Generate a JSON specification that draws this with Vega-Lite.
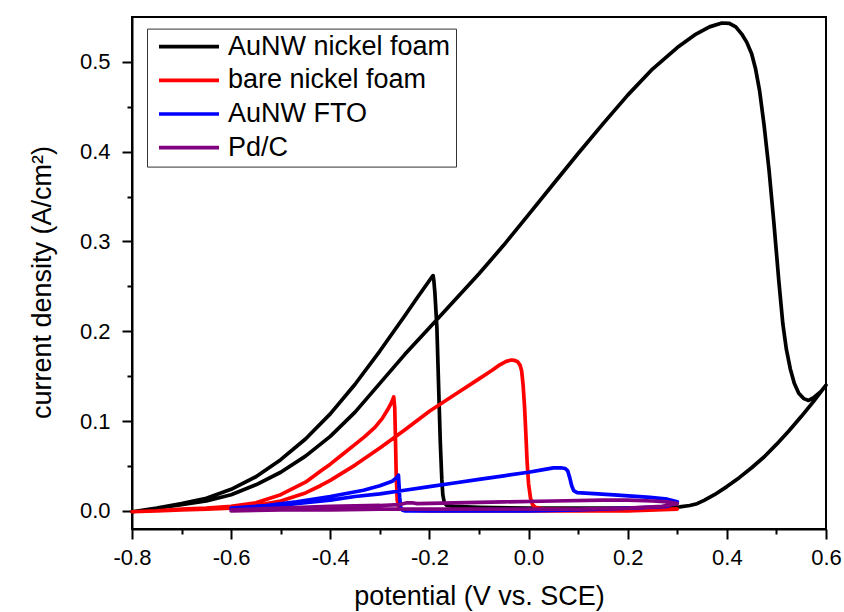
{
  "$schema": "https://vega.github.io/schema/vega-lite/v6.json",
  "width": 694,
  "height": 512,
  "autosize": {"type": "none"},
  "padding": {"left": 132, "top": 17, "right": 18, "bottom": 83},
  "background": "white",
  "config": {
    "font": "Liberation Sans",
    "view": {"stroke": "black", "strokeWidth": 2},
    "axis": {
      "domainColor": "black", "domainWidth": 2, "tickColor": "black", "tickWidth": 2,
      "labelColor": "black", "titleColor": "black", "labelFont": "Liberation Sans",
      "titleFont": "Liberation Sans", "titleFontWeight": "normal", "grid": false,
      "labelFontSize": 22, "titleFontSize": 27
    },
    "legend": {"labelFont": "Liberation Sans", "labelFontSize": 27, "labelColor": "black", "labelLimit": 0}
  },
  "data": {"values": [
    {"s":"AuNW nickel foam","i":1,"v":-0.8,"j":-0.001},
    {"s":"AuNW nickel foam","i":2,"v":-0.75,"j":0.003},
    {"s":"AuNW nickel foam","i":3,"v":-0.7,"j":0.007},
    {"s":"AuNW nickel foam","i":4,"v":-0.65,"j":0.011},
    {"s":"AuNW nickel foam","i":5,"v":-0.6,"j":0.018},
    {"s":"AuNW nickel foam","i":6,"v":-0.55,"j":0.029},
    {"s":"AuNW nickel foam","i":7,"v":-0.5,"j":0.043},
    {"s":"AuNW nickel foam","i":8,"v":-0.45,"j":0.061},
    {"s":"AuNW nickel foam","i":9,"v":-0.4,"j":0.083},
    {"s":"AuNW nickel foam","i":10,"v":-0.35,"j":0.110},
    {"s":"AuNW nickel foam","i":11,"v":-0.3,"j":0.142},
    {"s":"AuNW nickel foam","i":12,"v":-0.25,"j":0.174},
    {"s":"AuNW nickel foam","i":13,"v":-0.2,"j":0.204},
    {"s":"AuNW nickel foam","i":14,"v":-0.15,"j":0.234},
    {"s":"AuNW nickel foam","i":15,"v":-0.1,"j":0.264},
    {"s":"AuNW nickel foam","i":16,"v":-0.05,"j":0.296},
    {"s":"AuNW nickel foam","i":17,"v":0.0,"j":0.330},
    {"s":"AuNW nickel foam","i":18,"v":0.05,"j":0.364},
    {"s":"AuNW nickel foam","i":19,"v":0.1,"j":0.398},
    {"s":"AuNW nickel foam","i":20,"v":0.15,"j":0.431},
    {"s":"AuNW nickel foam","i":21,"v":0.2,"j":0.463},
    {"s":"AuNW nickel foam","i":22,"v":0.25,"j":0.492},
    {"s":"AuNW nickel foam","i":23,"v":0.3,"j":0.516},
    {"s":"AuNW nickel foam","i":24,"v":0.335,"j":0.530},
    {"s":"AuNW nickel foam","i":25,"v":0.365,"j":0.539},
    {"s":"AuNW nickel foam","i":26,"v":0.39,"j":0.5433},
    {"s":"AuNW nickel foam","i":27,"v":0.405,"j":0.543},
    {"s":"AuNW nickel foam","i":28,"v":0.418,"j":0.539},
    {"s":"AuNW nickel foam","i":29,"v":0.43,"j":0.531},
    {"s":"AuNW nickel foam","i":30,"v":0.44,"j":0.522},
    {"s":"AuNW nickel foam","i":31,"v":0.45,"j":0.509},
    {"s":"AuNW nickel foam","i":32,"v":0.458,"j":0.492},
    {"s":"AuNW nickel foam","i":33,"v":0.466,"j":0.468},
    {"s":"AuNW nickel foam","i":34,"v":0.475,"j":0.430},
    {"s":"AuNW nickel foam","i":35,"v":0.485,"j":0.380},
    {"s":"AuNW nickel foam","i":36,"v":0.495,"j":0.320},
    {"s":"AuNW nickel foam","i":37,"v":0.505,"j":0.255},
    {"s":"AuNW nickel foam","i":38,"v":0.513,"j":0.208},
    {"s":"AuNW nickel foam","i":39,"v":0.52,"j":0.180},
    {"s":"AuNW nickel foam","i":40,"v":0.528,"j":0.158},
    {"s":"AuNW nickel foam","i":41,"v":0.536,"j":0.142},
    {"s":"AuNW nickel foam","i":42,"v":0.545,"j":0.131},
    {"s":"AuNW nickel foam","i":43,"v":0.555,"j":0.125},
    {"s":"AuNW nickel foam","i":44,"v":0.565,"j":0.123},
    {"s":"AuNW nickel foam","i":45,"v":0.575,"j":0.126},
    {"s":"AuNW nickel foam","i":46,"v":0.59,"j":0.133},
    {"s":"AuNW nickel foam","i":47,"v":0.6,"j":0.140},
    {"s":"AuNW nickel foam","i":48,"v":0.575,"j":0.122},
    {"s":"AuNW nickel foam","i":49,"v":0.55,"j":0.105},
    {"s":"AuNW nickel foam","i":50,"v":0.525,"j":0.089},
    {"s":"AuNW nickel foam","i":51,"v":0.5,"j":0.074},
    {"s":"AuNW nickel foam","i":52,"v":0.475,"j":0.060},
    {"s":"AuNW nickel foam","i":53,"v":0.45,"j":0.048},
    {"s":"AuNW nickel foam","i":54,"v":0.425,"j":0.037},
    {"s":"AuNW nickel foam","i":55,"v":0.4,"j":0.027},
    {"s":"AuNW nickel foam","i":56,"v":0.375,"j":0.018},
    {"s":"AuNW nickel foam","i":57,"v":0.355,"j":0.012},
    {"s":"AuNW nickel foam","i":58,"v":0.34,"j":0.008},
    {"s":"AuNW nickel foam","i":59,"v":0.325,"j":0.006},
    {"s":"AuNW nickel foam","i":60,"v":0.305,"j":0.0045},
    {"s":"AuNW nickel foam","i":61,"v":0.28,"j":0.004},
    {"s":"AuNW nickel foam","i":62,"v":0.2,"j":0.003},
    {"s":"AuNW nickel foam","i":63,"v":0.1,"j":0.003},
    {"s":"AuNW nickel foam","i":64,"v":0.0,"j":0.003},
    {"s":"AuNW nickel foam","i":65,"v":-0.1,"j":0.004},
    {"s":"AuNW nickel foam","i":66,"v":-0.15,"j":0.005},
    {"s":"AuNW nickel foam","i":67,"v":-0.165,"j":0.006},
    {"s":"AuNW nickel foam","i":68,"v":-0.17,"j":0.009},
    {"s":"AuNW nickel foam","i":69,"v":-0.173,"j":0.018},
    {"s":"AuNW nickel foam","i":70,"v":-0.175,"j":0.035},
    {"s":"AuNW nickel foam","i":71,"v":-0.178,"j":0.075},
    {"s":"AuNW nickel foam","i":72,"v":-0.181,"j":0.130},
    {"s":"AuNW nickel foam","i":73,"v":-0.185,"j":0.205},
    {"s":"AuNW nickel foam","i":74,"v":-0.189,"j":0.243},
    {"s":"AuNW nickel foam","i":75,"v":-0.191,"j":0.256},
    {"s":"AuNW nickel foam","i":76,"v":-0.1925,"j":0.262},
    {"s":"AuNW nickel foam","i":77,"v":-0.195,"j":0.2605},
    {"s":"AuNW nickel foam","i":78,"v":-0.2,"j":0.2565},
    {"s":"AuNW nickel foam","i":79,"v":-0.225,"j":0.237},
    {"s":"AuNW nickel foam","i":80,"v":-0.25,"j":0.217},
    {"s":"AuNW nickel foam","i":81,"v":-0.3,"j":0.178},
    {"s":"AuNW nickel foam","i":82,"v":-0.35,"j":0.141},
    {"s":"AuNW nickel foam","i":83,"v":-0.4,"j":0.108},
    {"s":"AuNW nickel foam","i":84,"v":-0.45,"j":0.080},
    {"s":"AuNW nickel foam","i":85,"v":-0.5,"j":0.057},
    {"s":"AuNW nickel foam","i":86,"v":-0.55,"j":0.038},
    {"s":"AuNW nickel foam","i":87,"v":-0.6,"j":0.024},
    {"s":"AuNW nickel foam","i":88,"v":-0.65,"j":0.014},
    {"s":"AuNW nickel foam","i":89,"v":-0.7,"j":0.008},
    {"s":"AuNW nickel foam","i":90,"v":-0.75,"j":0.003},
    {"s":"AuNW nickel foam","i":91,"v":-0.8,"j":-0.001},

    {"s":"bare nickel foam","i":1,"v":-0.8,"j":-0.001},
    {"s":"bare nickel foam","i":2,"v":-0.75,"j":0.000},
    {"s":"bare nickel foam","i":3,"v":-0.7,"j":0.001},
    {"s":"bare nickel foam","i":4,"v":-0.65,"j":0.002},
    {"s":"bare nickel foam","i":5,"v":-0.6,"j":0.003},
    {"s":"bare nickel foam","i":6,"v":-0.55,"j":0.006},
    {"s":"bare nickel foam","i":7,"v":-0.5,"j":0.011},
    {"s":"bare nickel foam","i":8,"v":-0.45,"j":0.020},
    {"s":"bare nickel foam","i":9,"v":-0.42,"j":0.028},
    {"s":"bare nickel foam","i":10,"v":-0.4,"j":0.034},
    {"s":"bare nickel foam","i":11,"v":-0.35,"j":0.051},
    {"s":"bare nickel foam","i":12,"v":-0.3,"j":0.070},
    {"s":"bare nickel foam","i":13,"v":-0.25,"j":0.090},
    {"s":"bare nickel foam","i":14,"v":-0.2,"j":0.111},
    {"s":"bare nickel foam","i":15,"v":-0.15,"j":0.129},
    {"s":"bare nickel foam","i":16,"v":-0.1,"j":0.147},
    {"s":"bare nickel foam","i":17,"v":-0.075,"j":0.156},
    {"s":"bare nickel foam","i":18,"v":-0.06,"j":0.162},
    {"s":"bare nickel foam","i":19,"v":-0.045,"j":0.1665},
    {"s":"bare nickel foam","i":20,"v":-0.035,"j":0.168},
    {"s":"bare nickel foam","i":21,"v":-0.028,"j":0.1675},
    {"s":"bare nickel foam","i":22,"v":-0.022,"j":0.166},
    {"s":"bare nickel foam","i":23,"v":-0.017,"j":0.162},
    {"s":"bare nickel foam","i":24,"v":-0.014,"j":0.156},
    {"s":"bare nickel foam","i":25,"v":-0.011,"j":0.140},
    {"s":"bare nickel foam","i":26,"v":-0.008,"j":0.115},
    {"s":"bare nickel foam","i":27,"v":-0.005,"j":0.080},
    {"s":"bare nickel foam","i":28,"v":-0.003,"j":0.055},
    {"s":"bare nickel foam","i":29,"v":0.0,"j":0.030},
    {"s":"bare nickel foam","i":30,"v":0.004,"j":0.014},
    {"s":"bare nickel foam","i":31,"v":0.008,"j":0.007},
    {"s":"bare nickel foam","i":32,"v":0.014,"j":0.004},
    {"s":"bare nickel foam","i":33,"v":0.03,"j":0.002},
    {"s":"bare nickel foam","i":34,"v":0.1,"j":0.001},
    {"s":"bare nickel foam","i":35,"v":0.2,"j":0.001},
    {"s":"bare nickel foam","i":36,"v":0.3,"j":0.002},
    {"s":"bare nickel foam","i":37,"v":0.2,"j":0.000},
    {"s":"bare nickel foam","i":38,"v":0.1,"j":0.000},
    {"s":"bare nickel foam","i":39,"v":0.0,"j":0.000},
    {"s":"bare nickel foam","i":40,"v":-0.1,"j":0.000},
    {"s":"bare nickel foam","i":41,"v":-0.2,"j":0.000},
    {"s":"bare nickel foam","i":42,"v":-0.25,"j":0.001},
    {"s":"bare nickel foam","i":43,"v":-0.258,"j":0.002},
    {"s":"bare nickel foam","i":44,"v":-0.262,"j":0.004},
    {"s":"bare nickel foam","i":45,"v":-0.265,"j":0.012},
    {"s":"bare nickel foam","i":46,"v":-0.267,"j":0.040},
    {"s":"bare nickel foam","i":47,"v":-0.2685,"j":0.080},
    {"s":"bare nickel foam","i":48,"v":-0.27,"j":0.115},
    {"s":"bare nickel foam","i":49,"v":-0.272,"j":0.127},
    {"s":"bare nickel foam","i":50,"v":-0.274,"j":0.124},
    {"s":"bare nickel foam","i":51,"v":-0.278,"j":0.119},
    {"s":"bare nickel foam","i":52,"v":-0.285,"j":0.112},
    {"s":"bare nickel foam","i":53,"v":-0.295,"j":0.103},
    {"s":"bare nickel foam","i":54,"v":-0.31,"j":0.093},
    {"s":"bare nickel foam","i":55,"v":-0.33,"j":0.083},
    {"s":"bare nickel foam","i":56,"v":-0.35,"j":0.074},
    {"s":"bare nickel foam","i":57,"v":-0.375,"j":0.063},
    {"s":"bare nickel foam","i":58,"v":-0.4,"j":0.052},
    {"s":"bare nickel foam","i":59,"v":-0.42,"j":0.044},
    {"s":"bare nickel foam","i":60,"v":-0.45,"j":0.032},
    {"s":"bare nickel foam","i":61,"v":-0.5,"j":0.018},
    {"s":"bare nickel foam","i":62,"v":-0.55,"j":0.009},
    {"s":"bare nickel foam","i":63,"v":-0.6,"j":0.005},
    {"s":"bare nickel foam","i":64,"v":-0.65,"j":0.003},
    {"s":"bare nickel foam","i":65,"v":-0.7,"j":0.002},
    {"s":"bare nickel foam","i":66,"v":-0.75,"j":0.000},
    {"s":"bare nickel foam","i":67,"v":-0.8,"j":-0.001},

    {"s":"AuNW FTO","i":1,"v":-0.6,"j":0.002},
    {"s":"AuNW FTO","i":2,"v":-0.55,"j":0.004},
    {"s":"AuNW FTO","i":3,"v":-0.5,"j":0.006},
    {"s":"AuNW FTO","i":4,"v":-0.45,"j":0.009},
    {"s":"AuNW FTO","i":5,"v":-0.4,"j":0.012},
    {"s":"AuNW FTO","i":6,"v":-0.35,"j":0.016},
    {"s":"AuNW FTO","i":7,"v":-0.3,"j":0.019},
    {"s":"AuNW FTO","i":8,"v":-0.25,"j":0.023},
    {"s":"AuNW FTO","i":9,"v":-0.2,"j":0.027},
    {"s":"AuNW FTO","i":10,"v":-0.15,"j":0.031},
    {"s":"AuNW FTO","i":11,"v":-0.1,"j":0.035},
    {"s":"AuNW FTO","i":12,"v":-0.05,"j":0.039},
    {"s":"AuNW FTO","i":13,"v":0.0,"j":0.043},
    {"s":"AuNW FTO","i":14,"v":0.03,"j":0.046},
    {"s":"AuNW FTO","i":15,"v":0.05,"j":0.0478},
    {"s":"AuNW FTO","i":16,"v":0.065,"j":0.048},
    {"s":"AuNW FTO","i":17,"v":0.074,"j":0.0472},
    {"s":"AuNW FTO","i":18,"v":0.079,"j":0.0445},
    {"s":"AuNW FTO","i":19,"v":0.083,"j":0.037},
    {"s":"AuNW FTO","i":20,"v":0.087,"j":0.028},
    {"s":"AuNW FTO","i":21,"v":0.091,"j":0.0225},
    {"s":"AuNW FTO","i":22,"v":0.098,"j":0.0203},
    {"s":"AuNW FTO","i":23,"v":0.14,"j":0.019},
    {"s":"AuNW FTO","i":24,"v":0.18,"j":0.0175},
    {"s":"AuNW FTO","i":25,"v":0.245,"j":0.015},
    {"s":"AuNW FTO","i":26,"v":0.28,"j":0.013},
    {"s":"AuNW FTO","i":27,"v":0.3,"j":0.010},
    {"s":"AuNW FTO","i":28,"v":0.28,"j":0.005},
    {"s":"AuNW FTO","i":29,"v":0.25,"j":0.004},
    {"s":"AuNW FTO","i":30,"v":0.2,"j":0.003},
    {"s":"AuNW FTO","i":31,"v":0.1,"j":0.001},
    {"s":"AuNW FTO","i":32,"v":0.0,"j":0.000},
    {"s":"AuNW FTO","i":33,"v":-0.1,"j":0.000},
    {"s":"AuNW FTO","i":34,"v":-0.2,"j":0.000},
    {"s":"AuNW FTO","i":35,"v":-0.25,"j":0.000},
    {"s":"AuNW FTO","i":36,"v":-0.255,"j":0.001},
    {"s":"AuNW FTO","i":37,"v":-0.258,"j":0.004},
    {"s":"AuNW FTO","i":38,"v":-0.26,"j":0.015},
    {"s":"AuNW FTO","i":39,"v":-0.2615,"j":0.030},
    {"s":"AuNW FTO","i":40,"v":-0.2625,"j":0.0397},
    {"s":"AuNW FTO","i":41,"v":-0.266,"j":0.037},
    {"s":"AuNW FTO","i":42,"v":-0.275,"j":0.033},
    {"s":"AuNW FTO","i":43,"v":-0.3,"j":0.028},
    {"s":"AuNW FTO","i":44,"v":-0.333,"j":0.023},
    {"s":"AuNW FTO","i":45,"v":-0.4,"j":0.016},
    {"s":"AuNW FTO","i":46,"v":-0.468,"j":0.010},
    {"s":"AuNW FTO","i":47,"v":-0.53,"j":0.006},
    {"s":"AuNW FTO","i":48,"v":-0.6,"j":0.003},

    {"s":"Pd/C","i":1,"v":-0.6,"j":0.001},
    {"s":"Pd/C","i":2,"v":-0.5,"j":0.003},
    {"s":"Pd/C","i":3,"v":-0.4,"j":0.005},
    {"s":"Pd/C","i":4,"v":-0.3,"j":0.006},
    {"s":"Pd/C","i":5,"v":-0.26,"j":0.007},
    {"s":"Pd/C","i":6,"v":-0.245,"j":0.009},
    {"s":"Pd/C","i":7,"v":-0.235,"j":0.009},
    {"s":"Pd/C","i":8,"v":-0.225,"j":0.008},
    {"s":"Pd/C","i":9,"v":-0.15,"j":0.009},
    {"s":"Pd/C","i":10,"v":-0.05,"j":0.010},
    {"s":"Pd/C","i":11,"v":0.05,"j":0.011},
    {"s":"Pd/C","i":12,"v":0.15,"j":0.012},
    {"s":"Pd/C","i":13,"v":0.2,"j":0.012},
    {"s":"Pd/C","i":14,"v":0.25,"j":0.011},
    {"s":"Pd/C","i":15,"v":0.28,"j":0.010},
    {"s":"Pd/C","i":16,"v":0.3,"j":0.008},
    {"s":"Pd/C","i":17,"v":0.27,"j":0.005},
    {"s":"Pd/C","i":18,"v":0.2,"j":0.003},
    {"s":"Pd/C","i":19,"v":0.1,"j":0.002},
    {"s":"Pd/C","i":20,"v":0.0,"j":0.002},
    {"s":"Pd/C","i":21,"v":-0.1,"j":0.002},
    {"s":"Pd/C","i":22,"v":-0.2,"j":0.002},
    {"s":"Pd/C","i":23,"v":-0.3,"j":0.002},
    {"s":"Pd/C","i":24,"v":-0.4,"j":0.001},
    {"s":"Pd/C","i":25,"v":-0.5,"j":0.001},
    {"s":"Pd/C","i":26,"v":-0.6,"j":0.000}
  ]},
  "mark": {"type": "line", "strokeJoin": "round", "strokeCap": "round"},
  "encoding": {
    "x": {
      "field": "v", "type": "quantitative",
      "scale": {"domain": [-0.8, 0.6], "nice": false, "zero": false},
      "axis": {
        "values": [-0.8, -0.7, -0.6, -0.5, -0.4, -0.3, -0.2, -0.1, 0, 0.1, 0.2, 0.3, 0.4, 0.5, 0.6],
        "labelExpr": "abs(round(datum.value*10)) % 2 == 0 ? replace(format(datum.value, '.1f'), '\u2212', '-') : ''",
        "tickSize": {"condition": {"test": "abs(round(datum.value*10)) % 2 == 0", "value": 10}, "value": 5},
        "labelPadding": 8,
        "labelFlush": false,
        "labelOverlap": false,
        "title": "potential (V vs. SCE)",
        "titleY": 75,
        "titleBaseline": "alphabetic"
      }
    },
    "y": {
      "field": "j", "type": "quantitative",
      "scale": {"domain": [-0.0202, 0.55], "nice": false, "zero": false},
      "axis": {
        "values": [0, 0.05, 0.1, 0.15, 0.2, 0.25, 0.3, 0.35, 0.4, 0.45, 0.5],
        "labelExpr": "round(datum.value*100) % 10 == 0 ? format(datum.value, '.1f') : ''",
        "tickSize": {"condition": {"test": "round(datum.value*100) % 10 == 0", "value": 10}, "value": 5},
        "labelPadding": 12,
        "labelFlush": false,
        "labelOverlap": false,
        "title": "current density (A/cm²)",
        "titleX": -81.5,
        "titleY": 265,
        "titleBaseline": "alphabetic"
      }
    },
    "color": {
      "field": "s", "type": "nominal",
      "scale": {"domain": ["AuNW nickel foam", "bare nickel foam", "AuNW FTO", "Pd/C"], "range": ["#000000", "#ff0000", "#0000ff", "#800080"]},
      "legend": {
        "orient": "none", "legendX": 15, "legendY": 11.6, "title": null,
        "strokeColor": "#333333", "fillColor": "white", "padding": 5,
        "symbolType": "stroke", "symbolSize": 3600, "symbolStrokeWidth": 3.5,
        "symbolOffset": 5, "labelOffset": 7, "rowPadding": 6.7, "clipHeight": 26
      }
    },
    "strokeWidth": {
      "field": "s", "type": "nominal",
      "scale": {"domain": ["AuNW nickel foam", "bare nickel foam", "AuNW FTO", "Pd/C"], "range": [3.7, 3.7, 3.7, 5]},
      "legend": null
    },
    "order": {"field": "i", "type": "quantitative"}
  }
}
